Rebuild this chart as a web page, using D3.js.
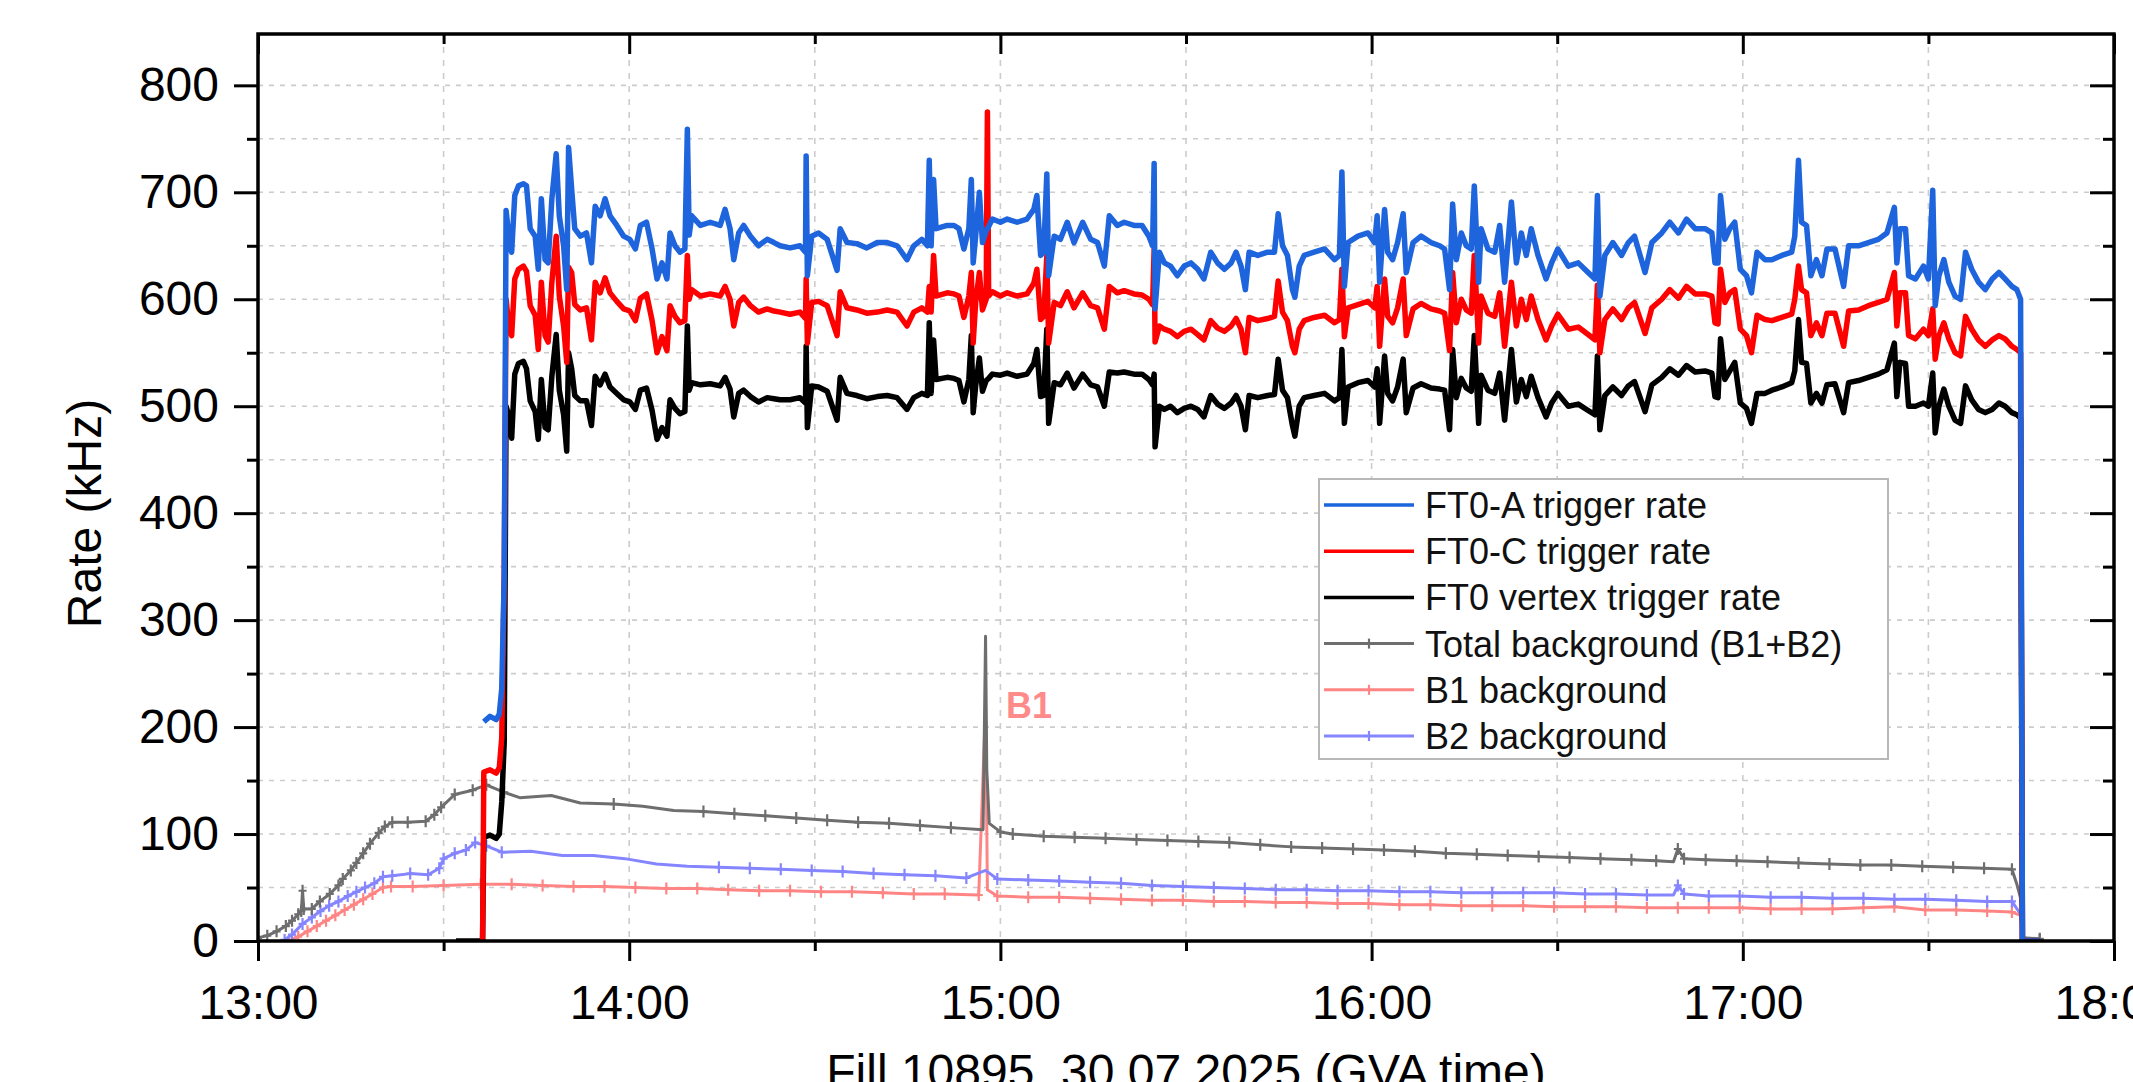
<!DOCTYPE html>
<html><head><meta charset="utf-8">
<script src="https://cdn.jsdelivr.net/npm/d3@7"></script>
<style>body{margin:0;background:#fff}svg{display:block}</style>
</head><body><svg id="chart" width="2133" height="1082"></svg>
<script>
// ---------- DATA (minutes after 13:00 GVA time, rates in kHz) ----------
const triggerMinutes = [32.0,36.3,36.5,37.5,38.5,39.0,39.4,39.8,40.1,40.6,41.0,41.5,42.1,42.9,43.4,44.0,44.8,45.3,45.8,46.4,46.9,47.5,48.2,48.7,49.4,49.9,50.2,50.7,51.2,52.1,53.1,53.9,54.5,55.3,56.1,56.9,58.0,59.1,60.1,61.0,61.8,62.8,63.7,64.5,65.3,66.1,66.6,67.4,68.2,69.0,69.4,69.7,70.1,71.5,73.1,74.7,75.5,76.3,76.9,77.7,78.5,79.6,80.9,82.3,83.4,84.4,86.0,87.6,88.5,88.6,88.8,89.5,90.6,92.0,93.6,94.1,95.2,96.8,98.4,100.1,101.7,103.3,104.9,106.0,107.3,108.2,108.5,108.8,109.2,109.6,111.4,112.5,113.3,114.1,114.9,115.3,115.6,116.0,116.6,117.1,117.7,117.9,118.1,118.7,120.0,121.1,122.7,124.3,125.4,125.9,126.5,127.0,127.5,127.8,128.7,129.7,130.8,131.9,133.3,134.6,135.7,136.8,137.6,138.9,140.0,141.6,142.9,144.0,144.6,144.85,145.0,145.7,146.5,147.5,148.6,149.7,150.8,151.9,152.9,154.0,155.1,156.2,157.3,158.1,158.9,159.6,160.2,161.6,163.2,164.3,164.9,165.6,166.4,167.2,167.6,168.3,169.1,170.7,172.4,174.0,174.8,175.2,175.6,176.2,177.8,179.4,180.5,180.9,181.3,182.1,182.6,183.4,184.2,185.1,185.6,186.7,188.0,189.6,191.0,191.8,192.6,193.1,193.7,194.5,195.3,196.1,196.6,197.3,197.7,198.8,199.9,200.7,201.5,202.6,203.4,204.2,205.0,205.8,206.9,208.2,209.1,210.1,211.8,213.4,215.0,216.1,216.5,216.9,217.7,219.0,220.4,221.5,222.5,224.2,225.3,226.9,228.2,229.6,230.9,232.3,233.9,235.0,235.5,236.0,236.4,237.1,237.9,238.7,239.6,240.6,241.4,242.3,243.6,244.7,246.3,247.9,248.4,249.0,249.5,250.3,251.0,251.9,252.8,253.6,254.9,256.3,257.1,258.7,260.3,261.9,263.3,264.5,264.9,265.4,266.3,266.8,267.9,269.2,270.0,270.7,271.1,271.7,272.5,273.3,274.3,275.2,276.0,277.0,278.1,279.2,280.3,281.4,282.4,283.5,284.3,284.9,285.2,288.0];
const ft0A = [null,null,205,210,207,212,236,340,683,656,644,697,706,708,706,666,659,628,694,637,634,694,736,678,650,609,742,703,666,659,662,634,687,678,694,678,669,659,656,647,669,672,647,619,634,619,662,650,644,647,759,660,678,669,672,669,684,666,637,662,669,659,650,656,653,650,648,650,644,734,622,659,662,656,627,666,653,652,648,653,653,650,637,650,656,650,730,650,712,666,669,669,666,647,666,712,634,659,700,653,664,666,668,675,672,675,672,675,684,697,641,644,717,622,659,656,672,653,672,656,653,631,678,669,672,669,669,659,650,727,591,644,634,631,622,631,634,628,619,644,634,628,634,644,631,609,644,641,644,644,680,650,641,609,602,631,641,644,647,637,641,719,612,653,659,662,653,678,616,684,644,637,653,680,625,653,659,653,650,647,609,689,637,662,650,647,706,616,666,647,644,669,616,691,634,662,641,666,641,619,634,647,631,634,625,619,697,603,641,653,641,653,659,625,653,662,672,662,675,666,666,662,634,634,697,656,666,672,628,622,606,644,637,637,641,644,659,730,672,669,622,637,622,647,647,612,650,650,653,656,662,686,634,666,666,622,619,631,619,702,594,622,637,616,603,600,644,628,616,609,619,625,619,612,609,600,0,0];
const ft0C = [null,0,158,160,157,162,190,345,600,572,566,619,628,631,626,594,585,553,616,566,560,616,659,603,575,541,630,625,595,590,592,562,616,606,620,606,598,591,589,580,601,605,580,550,565,552,594,584,578,580,641,600,609,603,605,603,612,600,575,597,602,594,588,591,589,588,586,588,582,619,559,597,598,594,566,607,592,590,587,588,590,588,575,588,592,588,612,588,641,603,606,605,603,583,603,625,559,597,625,590,600,775,603,607,603,606,603,605,615,628,581,584,640,559,597,594,607,592,606,594,592,572,612,606,608,605,604,600,595,647,560,575,572,570,565,570,572,567,562,580,573,570,575,582,572,550,583,580,582,584,617,588,580,556,550,572,580,583,585,578,581,628,565,592,595,598,592,612,556,619,584,578,592,619,566,591,596,591,589,587,552,625,578,600,590,587,641,559,603,587,584,606,556,616,575,600,581,603,581,562,575,586,572,574,567,562,613,550,581,591,581,592,597,568,592,600,609,601,612,605,605,603,578,577,628,597,606,609,572,566,550,585,581,580,583,586,600,631,609,606,566,578,566,587,587,556,589,590,594,597,600,625,575,606,606,566,563,572,566,591,544,566,578,563,550,547,584,572,562,556,562,566,563,556,553,550,0,0];
const ft0Vertex = [0,0,97,99,96,100,130,186,500,490,470,530,540,542,535,505,495,469,525,480,478,528,567,515,492,458,550,535,510,505,505,482,528,520,530,518,512,506,504,497,515,517,496,469,480,472,506,498,493,495,575,515,522,520,521,519,527,516,490,512,515,509,504,508,507,506,506,508,503,556,480,519,518,514,487,527,512,510,507,509,510,508,497,508,512,510,578,512,562,525,527,526,524,504,525,566,494,519,545,514,524,525,526,530,529,531,528,530,540,553,509,510,572,484,522,520,531,517,530,520,518,500,532,531,532,530,530,525,520,530,462,500,497,500,494,498,500,497,490,510,502,498,503,510,500,478,510,508,510,511,544,515,508,482,472,500,508,510,512,505,508,553,484,518,522,524,518,535,484,547,512,505,518,544,494,517,521,517,516,515,478,553,508,526,517,514,566,484,529,515,512,531,487,553,504,525,509,528,508,490,503,512,500,502,496,492,547,478,510,518,510,519,523,495,520,527,535,529,538,532,533,531,509,508,563,525,533,541,503,498,484,512,512,515,518,522,533,581,541,540,503,512,503,520,521,494,522,524,527,530,534,559,509,541,540,500,500,503,500,531,475,500,516,500,487,484,519,506,497,494,497,503,500,494,492,489,0,0];

const totalBgMinutes = [0,1.5,3,4.5,5.5,6.5,7.0,7.2,7.4,8.7,10,11.6,13,13.7,15,15.9,17,18.1,19.5,20.5,21.7,24.2,27.1,28.5,29.6,31.8,34.7,36.9,39.8,42.3,47.4,52.1,57.5,62.2,67.2,72,77,82,87,92,97,102,107,112,117.2,117.6,117.8,118.2,120,122,127,132,137,142,147,152,157,162,167,172,177,182,187,192,197,202,207,212,217,222,226,228.8,229.5,230.5,234,239,244,249,254,259,264,269,274,279,283.5,284.3,284.9,285.3,288];
const totalBg = [3,5,9,14,19,25,28,47,30,30,37,44,52,58,66,73,82,91,101,107,111,111,112,118,125,137,141,146,139,134,136,129,128,126,122,121,119,117,115,113,111,110,108,106,104,285,160,110,102,100,98,97,96,95,94,93,92,90,88,87,86,85,84,82,81,80,79,78,77,76,75,74,86,77,76,75,74,73,72,71,71,70,69,68,67,53,40,3,2];
const b1Minutes = [5,6.5,8,9.5,11,12.5,14,15.5,17,18.5,20.2,21.5,25,30,36,41,46,51,56,61,66,71,76,81,86,91,96,101,106,111,116.5,117.6,117.9,119.5,124.5,129.5,134.5,139.5,144.5,149.5,154.5,159.5,164.5,169.5,174.5,179.5,184.5,189.5,194.5,199.5,204.5,209.5,214.5,219.5,224.5,229.5,234.5,239.5,244.5,249.5,254.5,259.5,264.5,269.5,274.5,279.5,283.5,284.9,285.3,288];
const b1Bg = [0,4,9,14,19,24,29,34,39,44,50,51,51,52,53,53,52,51,51,50,49,49,48,47,47,46,46,45,44,44,43,220,48,42,41,41,40,39,38,38,37,37,36,36,35,35,34,34,33,33,33,32,32,32,31,31,31,31,30,30,30,31,32,29,29,28,27,24,1,1];
const b2Minutes = [4.3,5.5,7.2,8.7,10.1,11.5,13,14.5,15.9,17.3,18.8,20.2,21.7,24.6,27.5,29.3,30,31.8,33.6,35.1,36.9,39.4,44.1,49.2,54.2,59.3,64.4,69.4,74.5,79.5,84.5,89.5,94.5,99.5,104.5,109.5,114.5,117.6,119.5,124.5,129.5,134.5,139.5,144.5,149.5,154.5,159.5,164.5,169.5,174.5,179.5,184.5,189.5,194.5,199.5,204.5,209.5,214.5,219.5,224.5,228.8,229.5,230.5,234.5,239.5,244.5,249.5,254.5,259.5,264.5,269.5,274.5,279.5,283.5,284.9,285.3,288];
const b2Bg = [1,6,16,22,28,33,37,42,46,50,54,60,61,63,62,68,77,82,85,92,89,83,84,80,80,77,72,70,69,68,67,66,65,63,62,61,59,66,58,57,56,55,54,52,51,50,49,48,48,47,47,46,46,45,45,45,45,44,44,43,43,52,44,42,42,41,41,40,40,39,39,38,37,37,25,2,1];

const yTickValues = [0,100,200,300,400,500,600,700,800];
const xTickLabels = ["13:00","14:00","15:00","16:00","17:00","18:00"];
const legendLabels = ["FT0-A trigger rate","FT0-C trigger rate","FT0 vertex trigger rate","Total background (B1+B2)","B1 background","B2 background"];
const axisTitleY = "Rate (kHz)";
const axisTitleX = "Fill 10895, 30.07.2025 (GVA time)";

// ---------- DRAWING ----------
const svg = d3.select("#chart");
const L = 258, R = 2114, T = 34, B = 941;
const FONT = "'Liberation Sans', Arial, Helvetica, sans-serif";
const base = new Date(2025, 6, 30, 13, 0, 0);
const tm = m => new Date(base.getTime() + m * 60000);
const x = d3.scaleTime().domain([tm(0), tm(300)]).range([L, R]);
const y = d3.scaleLinear().domain([0, 848]).range([B, T]);

svg.append("rect").attr("width", 2133).attr("height", 1082).attr("fill", "#fff");

// grid
const grid = svg.append("g");
grid.selectAll(".gy").data(d3.range(50, 848, 50)).join("line")
  .attr("x1", L).attr("x2", R).attr("y1", d => y(d)).attr("y2", d => y(d))
  .attr("stroke", "#cccccc").attr("stroke-width", 1.6).attr("stroke-dasharray", "5,6");
grid.selectAll(".gx").data(d3.range(30, 300, 30).map(tm)).join("line")
  .attr("y1", T).attr("y2", B).attr("x1", d => x(d)).attr("x2", d => x(d))
  .attr("stroke", "#cccccc").attr("stroke-width", 1.6).attr("stroke-dasharray", "6,7");

svg.append("clipPath").attr("id", "clip").append("rect")
  .attr("x", L).attr("y", T - 2).attr("width", R - L).attr("height", B - T + 2);
const plot = svg.append("g").attr("clip-path", "url(#clip)");

const line = d3.line().defined(d => d[1] != null).x(d => x(tm(d[0]))).y(d => y(d[1]));

function bgSeries(mins, vals, color) {
  const pts = mins.map((m, i) => [m, vals[i]]);
  plot.append("path").datum(pts).attr("d", line).attr("fill", "none")
    .attr("stroke", color).attr("stroke-width", 3).attr("stroke-linejoin", "round");
  // markers only at the regularly sampled points (not on spike/bump points)
  const marked = pts.filter(d => Math.abs(d[0] * 2 - Math.round(d[0] * 2)) < 1e-6 || d[0] < 40);
  plot.append("g").selectAll("path").data(marked).join("path")
    .attr("transform", d => `translate(${x(tm(d[0]))},${y(d[1])})`)
    .attr("d", "M0,-6V6M-4,0H4").attr("stroke", color).attr("stroke-width", 2.2).attr("fill", "none");
}
const colB1 = "#ff8585", colB2 = "#8585ff", colTot = "#6e6e6e";
bgSeries(b1Minutes, b1Bg, colB1);
bgSeries(b2Minutes, b2Bg, colB2);
bgSeries(totalBgMinutes, totalBg, colTot);

function trigSeries(vals, color) {
  const pts = triggerMinutes.map((m, i) => [m, vals[i]]);
  plot.append("path").datum(pts).attr("d", line).attr("fill", "none")
    .attr("stroke", color).attr("stroke-width", 5.5).attr("stroke-linejoin", "round");
}
const colA = "#1e64dc", colC = "#ff0000", colV = "#000000";
trigSeries(ft0Vertex, colV);
trigSeries(ft0C, colC);
trigSeries(ft0A, colA);

// axes
function styleAxis(g) {
  g.select(".domain").remove();
  g.selectAll(".tick line").attr("stroke", "#000").attr("stroke-width", 3);
  g.selectAll(".tick text").attr("font-family", FONT).attr("font-size", 48).attr("fill", "#000");
}
const hours = d3.range(0, 301, 60).map(tm);
const halves = d3.range(30, 300, 60).map(tm);
svg.append("g").attr("transform", `translate(0,${B})`)
  .call(d3.axisBottom(x).tickValues(hours).tickFormat((d, i) => xTickLabels[i]).tickSize(20).tickPadding(24)).call(styleAxis);
svg.append("g").attr("transform", `translate(0,${B})`)
  .call(d3.axisBottom(x).tickValues(halves).tickFormat("").tickSize(10)).call(styleAxis);
svg.append("g").attr("transform", `translate(0,${T})`)
  .call(d3.axisTop(x).tickValues(hours).tickFormat("").tickSize(-20)).call(styleAxis);
svg.append("g").attr("transform", `translate(0,${T})`)
  .call(d3.axisTop(x).tickValues(halves).tickFormat("").tickSize(-10)).call(styleAxis);
svg.append("g").attr("transform", `translate(${L},0)`)
  .call(d3.axisLeft(y).tickValues(yTickValues).tickSize(24).tickPadding(15)).call(styleAxis);
svg.append("g").attr("transform", `translate(${L},0)`)
  .call(d3.axisLeft(y).tickValues(d3.range(50, 800, 100)).tickFormat("").tickSize(11)).call(styleAxis);
svg.append("g").attr("transform", `translate(${R},0)`)
  .call(d3.axisRight(y).tickValues(yTickValues).tickFormat("").tickSize(-24)).call(styleAxis);
svg.append("g").attr("transform", `translate(${R},0)`)
  .call(d3.axisRight(y).tickValues(d3.range(50, 800, 100)).tickFormat("").tickSize(-11)).call(styleAxis);

svg.append("rect").attr("x", L).attr("y", T).attr("width", R - L).attr("height", B - T)
  .attr("fill", "none").attr("stroke", "#000").attr("stroke-width", 3.5);

// titles
svg.append("text").attr("transform", `translate(84,${(T + B) / 2 + 26}) rotate(-90)`)
  .attr("text-anchor", "middle").attr("dominant-baseline", "central")
  .attr("font-family", FONT).attr("font-size", 48).text(axisTitleY);
svg.append("text").attr("x", (L + R) / 2).attr("y", 1088).attr("text-anchor", "middle")
  .attr("font-family", FONT).attr("font-size", 48).text(axisTitleX);

// B1 annotation
svg.append("text").attr("x", 1006).attr("y", 718).attr("font-family", FONT)
  .attr("font-weight", "bold").attr("font-size", 36).attr("fill", "#ff8a8a").text("B1");

// legend
const lg = svg.append("g");
lg.append("rect").attr("x", 1319).attr("y", 479).attr("width", 569).attr("height", 280)
  .attr("fill", "#fff").attr("stroke", "#b8b8b8").attr("stroke-width", 2);
const legendColors = [colA, colC, colV, colTot, colB1, colB2];
legendLabels.forEach((lab, i) => {
  const yy = 505 + i * 46.2;
  lg.append("line").attr("x1", 1324).attr("x2", 1414).attr("y1", yy).attr("y2", yy)
    .attr("stroke", legendColors[i]).attr("stroke-width", i < 3 ? 3.5 : 3);
  if (i >= 3) lg.append("path").attr("transform", `translate(1369,${yy})`)
    .attr("d", "M0,-5V5").attr("stroke", legendColors[i]).attr("stroke-width", 2.2);
  lg.append("text").attr("x", 1425).attr("y", yy).attr("dy", "0.36em")
    .attr("font-family", FONT).attr("font-size", 36).attr("fill", "#111").text(lab);
});
</script>
</body></html>
